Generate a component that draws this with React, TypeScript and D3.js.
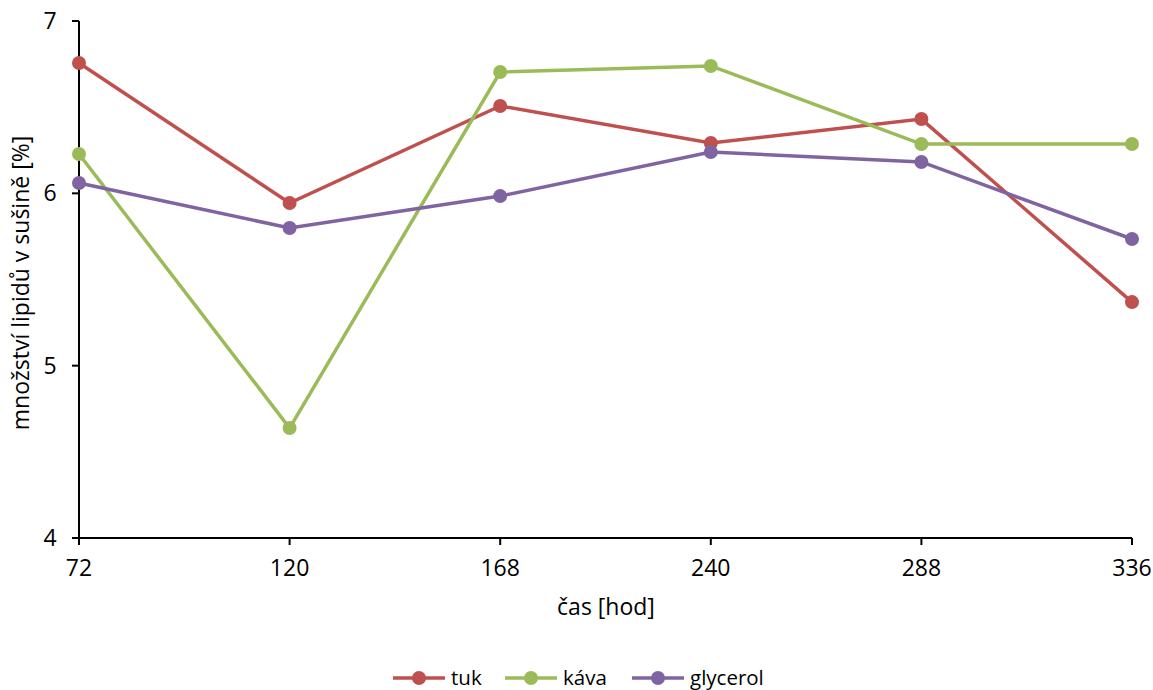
import React from "react";
import * as d3 from "d3";

const hours = ["72", "120", "168", "240", "288", "336"];
const tuk = [6.756, 5.944, 6.507, 6.292, 6.431, 5.369];
const kava = [6.228, 4.638, 6.704, 6.739, 6.286, 6.286];
const glycerol = [6.06, 5.799, 5.984, 6.24, 6.182, 5.735];
const yTicks = [4, 5, 6, 7];

const series = [
  { name: "tuk", values: tuk, color: "#C0504D" },
  { name: "káva", values: kava, color: "#9BBB59" },
  { name: "glycerol", values: glycerol, color: "#8064A2" },
];

const W = 1153;
const H = 690;
const left = 79;
const right = 1132;
const top = 21;
const bottom = 538;
const font = "'Open Sans', sans-serif";
const fs = 23;
const legendFs = 20.5;

export default function App() {
  const x = d3.scalePoint<string>().domain(hours).range([left, right]);
  const y = d3.scaleLinear().domain([4, 7]).range([bottom, top]);
  const line = d3
    .line<number>()
    .x((_, i) => x(hours[i]) as number)
    .y((d) => y(d));

  const legendItems = [
    { x: 393, ...series[0] },
    { x: 505, ...series[1] },
    { x: 632, ...series[2] },
  ];
  const legendY = 678;

  return (
    <svg
      width={W}
      height={H}
      style={{ position: "absolute", left: 0, top: 0, background: "#fff" }}
      fontFamily={font}
    >
      {/* axes */}
      <line x1={left} x2={left} y1={top} y2={bottom} stroke="#000" strokeWidth={2} />
      <line x1={left} x2={right} y1={bottom} y2={bottom} stroke="#000" strokeWidth={2} />
      {yTicks.map((t) => (
        <g key={t}>
          <line x1={left - 7} x2={left} y1={y(t)} y2={y(t)} stroke="#000" strokeWidth={2} />
          <text x={left - 29} y={y(t)} dy="0.35em" textAnchor="middle" fontSize={fs} fill="#000">
            {t}
          </text>
        </g>
      ))}
      {hours.map((h) => (
        <g key={h}>
          <line x1={x(h)} x2={x(h)} y1={bottom} y2={bottom + 7} stroke="#000" strokeWidth={2} />
          <text x={x(h)} y={bottom + 38} textAnchor="middle" fontSize={fs} fill="#000">
            {h}
          </text>
        </g>
      ))}
      <text x={606} y={615} textAnchor="middle" fontSize={fs} fill="#000">
        čas [hod]
      </text>
      <text
        transform={`translate(29, 283) rotate(-90)`}
        textAnchor="middle"
        fontSize={fs}
        fill="#000"
      >
        množství lipidů v sušině [%]
      </text>

      {/* series */}
      {series.map((s) => (
        <g key={s.name}>
          <path d={line(s.values) || ""} fill="none" stroke={s.color} strokeWidth={3.5} />
          {s.values.map((v, i) => (
            <circle key={i} cx={x(hours[i])} cy={y(v)} r={7} fill={s.color} />
          ))}
        </g>
      ))}

      {/* legend */}
      {legendItems.map((s) => (
        <g key={s.name}>
          <line x1={s.x} x2={s.x + 52} y1={legendY} y2={legendY} stroke={s.color} strokeWidth={3.5} />
          <circle cx={s.x + 26} cy={legendY} r={7} fill={s.color} />
          <text x={s.x + 58} y={legendY} dy="0.35em" fontSize={legendFs} fill="#000">
            {s.name}
          </text>
        </g>
      ))}
    </svg>
  );
}
